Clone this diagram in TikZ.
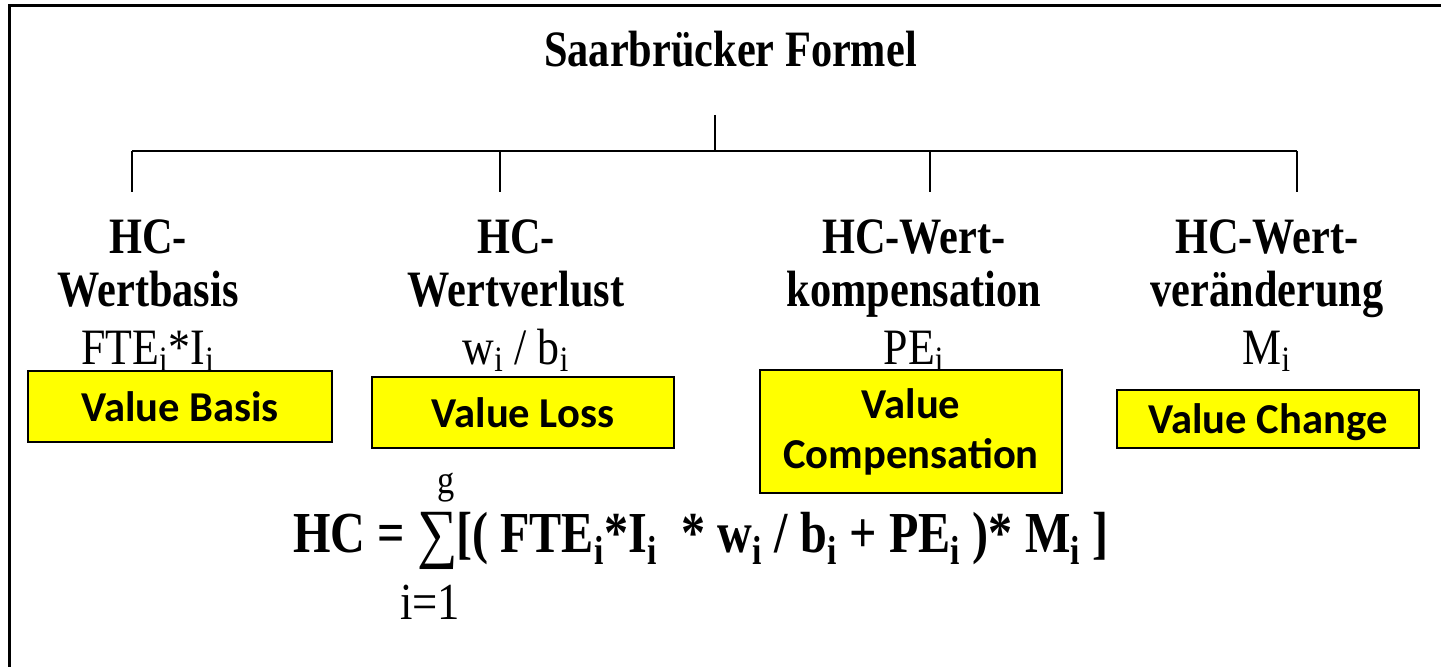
\documentclass[tikz,border=0pt]{standalone}
\usepackage{fontspec}
\setmainfont{Liberation Serif}
\newfontfamily\narrowserif[FakeStretch=0.83]{Liberation Serif}
\newfontfamily\narrowreg[FakeStretch=0.86]{Liberation Serif}
\newfontfamily\boxfont{Carlito}
\usetikzlibrary{positioning}
\definecolor{boxyellow}{HTML}{FFFF00}

\tikzset{
  heading/.style = {font=\narrowserif\bfseries\fontsize{25.5}{26.5}\selectfont,
    inner sep=0pt, anchor=base},
  colhead/.style = {font=\narrowserif\bfseries\fontsize{25.5}{26.5}\selectfont,
    align=center, inner sep=0pt, anchor=north},
  valbox/.style = {draw=black, line width=1pt, fill=boxyellow, align=center,
    font=\boxfont\bfseries\fontsize{21.3}{25}\selectfont, inner sep=0pt},
  formula/.style = {font=\narrowserif\bfseries\fontsize{29}{31}\selectfont,
    inner sep=0pt},
  limit/.style = {font=\narrowreg\fontsize{20}{22}\selectfont, inner sep=0pt,
    anchor=base},
  branch/.style = {line width=0.75pt}
}

\begin{document}
\begin{tikzpicture}[x=0.5pt, y=-0.5pt]
  \useasboundingbox (0,0) rectangle (1441,667);
  % frame (top and left only)
  \draw[line width=1.5pt] (9,667) -- (9,5.5) -- (1441,5.5);

  \node[heading] (title) at (730.5,67) {Saarbrücker Formel};

  % tree lines
  \coordinate (stem) at (715,115);
  \coordinate (hub) at (715,151);
  \foreach \x [count=\k] in {132,500,930,1297} {
    \coordinate (up\k) at (\x,151);
    \coordinate (dn\k) at (\x,192);
  }
  \draw[branch] (stem) -- (hub);
  \draw[branch] (up1) -- (up4);
  \foreach \k in {1,...,4}
    \draw[branch] (up\k) -- (dn\k);

  % the four parts
  \node[colhead] (basis) at (148,219)
    {HC-\\Wertbasis\\[2.5pt]{\narrowreg\mdseries FTE\textsubscript{i}*I\textsubscript{i}}};
  \node[colhead] (loss) at (516,219)
    {HC-\\Wertverlust\\[2.5pt]{\narrowreg\mdseries w\textsubscript{i} / b\textsubscript{i}}};
  \node[colhead] (comp) at (914,219)
    {HC-Wert-\\kompensation\\[2.5pt]{\narrowreg\mdseries PE\textsubscript{i}}};
  \node[colhead] (change) at (1267,219)
    {HC-Wert-\\veränderung\\[2.5pt]{\narrowreg\mdseries M\textsubscript{i}}};

  \node[valbox, minimum width=152pt, minimum height=35.5pt] (vbasis) at (180,406.5) {Value Basis};
  \node[valbox, minimum width=151pt, minimum height=35.5pt] (vloss) at (523,412.5) {Value Loss};
  \node[valbox, minimum width=151pt, minimum height=61.5pt] (vcomp) at (911,432) {Value\\Compensation};
  \node[valbox, minimum width=151pt, minimum height=29pt, text depth=0pt] (vchange) at (1268,419) {Value Change};

  % HC formula
  \node[formula, anchor=base west] (hc) at (293,553) {HC =};
  \node[formula, font=\narrowreg\fontsize{33}{36}\selectfont] (sum) at (438,541) {∑};
  \node[formula, anchor=base west] (terms) at (456,553)
    {[( FTE\textsubscript{i}*I\textsubscript{i}~ * w\textsubscript{i} / b\textsubscript{i} + PE\textsubscript{i} )* M\textsubscript{i} ]};
  \node[limit] (upper) at (446,494) {g};
  \node[limit, font=\narrowreg\fontsize{26}{28}\selectfont] (lower) at (430,620) {i=1};
\end{tikzpicture}
\end{document}
